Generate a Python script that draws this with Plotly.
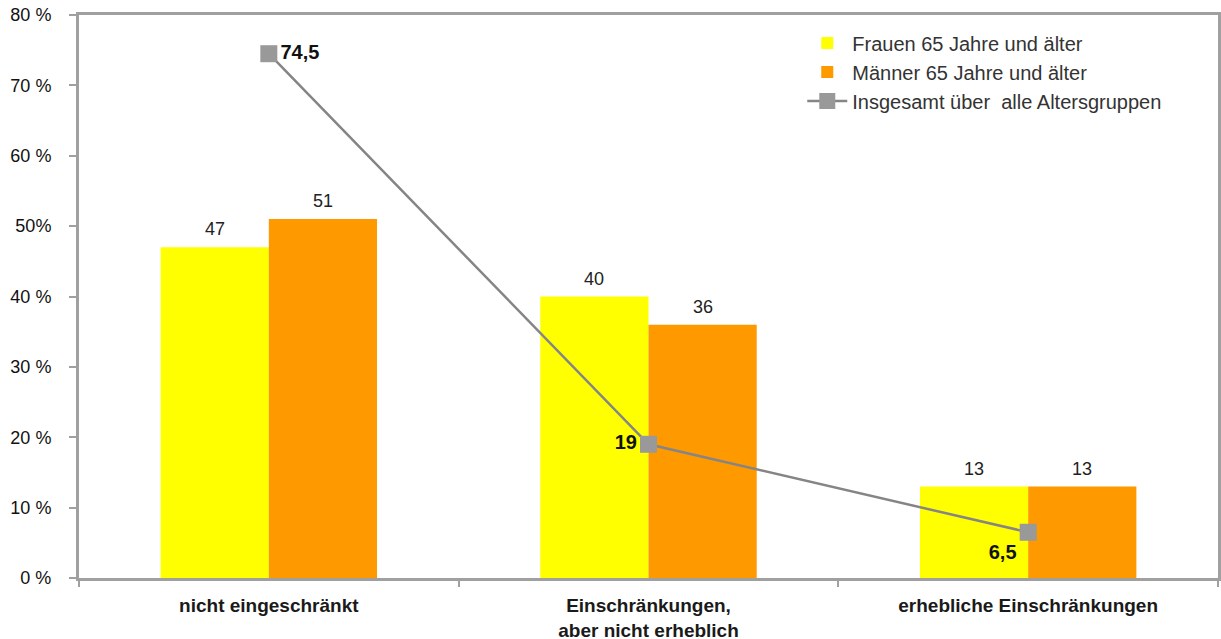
import plotly.graph_objects as go

# Kategorien und Werte (Anteile in Prozent)
categories = ["nicht eingeschränkt", "Einschränkungen,<br>aber nicht erheblich", "erhebliche Einschränkungen"]
frauen_65 = [47, 40, 13]
maenner_65 = [51, 36, 13]
insgesamt = [74.5, 19, 6.5]

y_tickvals = [0, 10, 20, 30, 40, 50, 60, 70, 80]
y_ticktext = ["0 %", "10 %", "20 %", "30 %", "40 %", "50%", "60 %", "70 %", "80 %"]

FONT = "Liberation Sans, Arial, sans-serif"
AXIS_GREY = "#a0a0a0"

WIDTH, HEIGHT = 1221, 639
MARGIN = dict(l=79, r=3, t=15, b=61)
BARGAP = 0.43

fig = go.Figure()

fig.add_trace(go.Bar(
    name="Frauen 65 Jahre und älter",
    x=categories, y=frauen_65,
    marker=dict(color="#ffff00", line=dict(width=0)),
))
fig.add_trace(go.Bar(
    name="Männer 65 Jahre und älter",
    x=categories, y=maenner_65,
    marker=dict(color="#ff9900", line=dict(width=0)),
))

line_labels = [f"{v:g}".replace(".", ",") for v in insgesamt]
fig.add_trace(go.Scatter(
    name="Insgesamt über  alle Altersgruppen",
    x=categories, y=insgesamt,
    mode="lines+markers+text",
    line=dict(color="#858585", width=2.5),
    marker=dict(symbol="square", size=17, color="#999999"),
    text=line_labels, texttemplate="<b>%{text}</b>",
    textposition=["middle right", "middle left", "bottom left"],
    textfont=dict(family=FONT, size=20, color="#111111"),
    cliponaxis=False,
))

# value labels above the bars: each label sits over the centre of its bar
plot_w = WIDTH - MARGIN["l"] - MARGIN["r"]
bar_w = plot_w / len(categories) * (1 - BARGAP) / 2
for series, side in ((frauen_65, -1), (maenner_65, 1)):
    for cat, val in zip(categories, series):
        fig.add_annotation(
            x=cat, y=val, xref="x", yref="y",
            text=str(val), showarrow=False,
            xanchor="center", yanchor="bottom",
            xshift=side * bar_w / 2, yshift=6,
            font=dict(family=FONT, size=18, color="#222222"),
        )

fig.update_layout(
    width=WIDTH, height=HEIGHT,
    margin=MARGIN,
    paper_bgcolor="white", plot_bgcolor="white",
    barmode="group", bargap=BARGAP, bargroupgap=0,
    font=dict(family=FONT, size=18, color="#222222"),
    showlegend=True,
    legend=dict(
        x=0.635, y=0.985, xanchor="left", yanchor="top",
        bgcolor="rgba(0,0,0,0)",
        font=dict(family=FONT, size=20, color="#333333"),
        itemwidth=40,
    ),
)

fig.update_xaxes(
    showgrid=False, zeroline=False, automargin=False,
    showline=True, linecolor=AXIS_GREY, linewidth=3, mirror=True,
    ticks="outside", tickson="boundaries", ticklen=6, tickwidth=2, tickcolor=AXIS_GREY,
    tickfont=dict(family=FONT, size=19, color="#1a1a1a"),
    tickprefix="<b>", ticksuffix="</b>",
    ticklabelstandoff=8,
)
fig.update_yaxes(
    range=[0, 80], showgrid=False, zeroline=False, automargin=False,
    showline=True, linecolor=AXIS_GREY, linewidth=3, mirror=True,
    tickmode="array", tickvals=y_tickvals, ticktext=y_ticktext,
    ticks="outside", ticklen=7, tickwidth=2, tickcolor=AXIS_GREY,
    tickfont=dict(family=FONT, size=18, color="#111111"),
    ticklabelstandoff=14,
)

fig.write_html("out.html")
